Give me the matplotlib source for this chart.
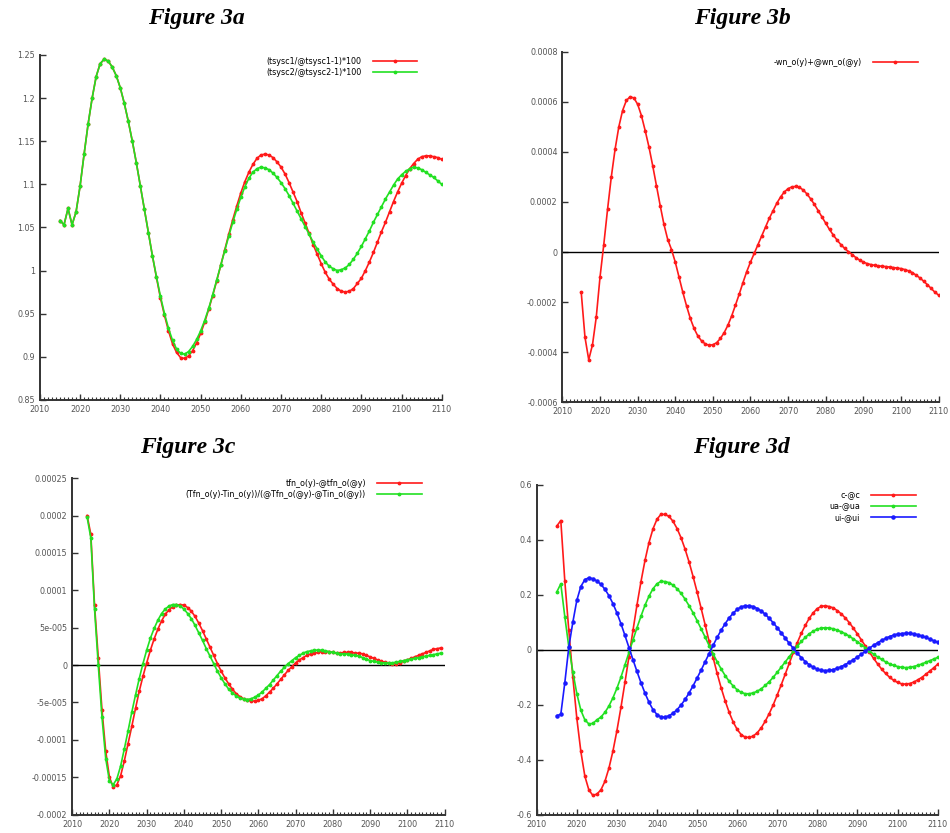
import matplotlib
matplotlib.use('Agg')
import matplotlib.pyplot as plt
import numpy as np
from matplotlib.ticker import MultipleLocator

# ---- data (yearly values) ----
years_a = np.arange(2015, 2111)
tsysc1 = [1.058, 1.053, 1.072, 1.053, 1.068,
          1.098, 1.135, 1.170, 1.200, 1.225, 1.240, 1.245, 1.243, 1.236, 1.226,
          1.212, 1.194, 1.173, 1.150, 1.125, 1.098, 1.071, 1.044, 1.017, 0.992,
          0.968, 0.948, 0.930, 0.915, 0.905, 0.899, 0.898, 0.901, 0.907, 0.916,
          0.927, 0.940, 0.955, 0.971, 0.988, 1.006, 1.024, 1.042, 1.059, 1.075,
          1.090, 1.103, 1.114, 1.123, 1.130, 1.134, 1.135, 1.134, 1.131, 1.126,
          1.120, 1.112, 1.102, 1.091, 1.080, 1.067, 1.055, 1.043, 1.030, 1.019,
          1.008, 0.998, 0.990, 0.984, 0.979, 0.976, 0.975, 0.976, 0.979, 0.985,
          0.991, 1.000, 1.010, 1.021, 1.033, 1.045, 1.056, 1.068, 1.080, 1.091,
          1.101, 1.110, 1.118, 1.124, 1.129, 1.132, 1.133, 1.133, 1.132, 1.131,
          1.129]
tsysc2 = [1.058, 1.053, 1.072, 1.053, 1.068,
          1.098, 1.135, 1.170, 1.200, 1.225, 1.240, 1.245, 1.243, 1.236, 1.226,
          1.212, 1.194, 1.173, 1.150, 1.125, 1.098, 1.071, 1.044, 1.017, 0.993,
          0.970, 0.950, 0.933, 0.919, 0.909, 0.904, 0.903, 0.906, 0.912, 0.920,
          0.930, 0.942, 0.956, 0.972, 0.989, 1.006, 1.023, 1.040, 1.056, 1.071,
          1.085, 1.097, 1.107, 1.114, 1.118, 1.120, 1.119, 1.117, 1.113, 1.108,
          1.102, 1.095, 1.087, 1.078, 1.069, 1.060, 1.051, 1.042, 1.033, 1.025,
          1.017, 1.010, 1.005, 1.002, 1.000, 1.001, 1.003, 1.007, 1.013, 1.020,
          1.028, 1.037, 1.046, 1.056, 1.065, 1.074, 1.083, 1.091, 1.099, 1.106,
          1.111, 1.115, 1.118, 1.120, 1.119, 1.117, 1.114, 1.111, 1.108, 1.104,
          1.100]

years_b = np.arange(2015, 2111)
wn = [-0.000160, -0.000340, -0.000430, -0.000370, -0.000260,
      -0.000100, 0.000030, 0.000170, 0.000300, 0.000410, 0.000500, 0.000565, 0.000605, 0.000620, 0.000615,
      0.000590, 0.000545, 0.000485, 0.000420, 0.000345, 0.000265, 0.000185, 0.000110, 0.000050, 0.000010,
      -0.000040, -0.000100, -0.000160, -0.000215, -0.000265, -0.000305, -0.000335, -0.000355, -0.000367, -0.000372,
      -0.000370, -0.000362, -0.000345, -0.000322, -0.000292, -0.000255, -0.000212, -0.000168, -0.000122, -0.000078,
      -0.000040, -0.000005, 0.000030, 0.000065, 0.000100, 0.000135, 0.000165, 0.000195, 0.000220, 0.000240,
      0.000253, 0.000260, 0.000262, 0.000258, 0.000248, 0.000232, 0.000212, 0.000190, 0.000165, 0.000140,
      0.000115, 0.000090, 0.000068, 0.000048, 0.000030, 0.000015, 0.000002, -0.000010, -0.000022, -0.000032,
      -0.000040, -0.000046, -0.000050, -0.000053, -0.000055, -0.000057, -0.000058, -0.000060, -0.000062, -0.000064,
      -0.000066, -0.000070, -0.000075, -0.000082, -0.000092, -0.000103, -0.000116, -0.000130, -0.000145, -0.000160,
      -0.000172]

years_c = np.arange(2014, 2110)
tfn = [0.000200, 0.000175, 0.000080, 0.000010, -0.000060, -0.000115,
       -0.000150, -0.000163, -0.000160, -0.000148, -0.000128, -0.000105, -0.000082, -0.000058, -0.000035, -0.000015,
       0.000003, 0.000020, 0.000035, 0.000048, 0.000059, 0.000068, 0.000074, 0.000078, 0.000080, 0.000081,
       0.000080, 0.000077, 0.000072, 0.000065, 0.000056, 0.000046, 0.000035, 0.000024, 0.000013, 0.000002,
       -0.000008, -0.000017, -0.000025, -0.000032, -0.000038, -0.000042, -0.000045, -0.000047, -0.000048, -0.000048,
       -0.000047, -0.000045, -0.000041, -0.000036, -0.000031, -0.000025, -0.000019, -0.000013, -0.000007, -0.000002,
       0.000003, 0.000007, 0.000010, 0.000013, 0.000015, 0.000016, 0.000017, 0.000018, 0.000018, 0.000018,
       0.000017, 0.000016, 0.000016, 0.000017, 0.000017, 0.000017, 0.000016, 0.000016, 0.000015, 0.000013,
       0.000011, 0.000009, 0.000007, 0.000005, 0.000004, 0.000003, 0.000002, 0.000002, 0.000003, 0.000005,
       0.000007, 0.000009, 0.000011, 0.000013, 0.000015, 0.000017, 0.000019, 0.000021, 0.000022, 0.000023]
tfn_tin = [0.000198, 0.000170, 0.000075, 0.000000, -0.000070, -0.000125,
           -0.000155, -0.000160, -0.000152, -0.000135, -0.000112, -0.000088, -0.000063, -0.000040, -0.000018, 0.000002,
           0.000020, 0.000036, 0.000049, 0.000060, 0.000069, 0.000075, 0.000079, 0.000081, 0.000081, 0.000079,
           0.000075, 0.000069, 0.000062, 0.000053, 0.000043, 0.000033, 0.000022, 0.000012, 0.000002, -0.000008,
           -0.000017, -0.000025, -0.000032, -0.000037, -0.000041, -0.000044, -0.000045, -0.000046, -0.000045, -0.000043,
           -0.000040, -0.000036, -0.000031, -0.000026, -0.000020, -0.000014, -0.000008, -0.000003, 0.000002, 0.000006,
           0.000010, 0.000013, 0.000016, 0.000018, 0.000019, 0.000020, 0.000020, 0.000020, 0.000019, 0.000018,
           0.000017, 0.000016, 0.000015, 0.000015, 0.000015, 0.000014, 0.000013, 0.000012, 0.000010, 0.000008,
           0.000006, 0.000005, 0.000004, 0.000003, 0.000003, 0.000003, 0.000003, 0.000004, 0.000005, 0.000006,
           0.000007, 0.000008, 0.000009, 0.000010, 0.000011, 0.000012, 0.000013, 0.000014, 0.000015, 0.000016]

years_d = np.arange(2015, 2111)
c_dev = [0.45, 0.47, 0.25, 0.07, -0.10,
         -0.25, -0.37, -0.46, -0.51, -0.53, -0.525, -0.510, -0.479, -0.431, -0.369,
         -0.294, -0.210, -0.119, -0.025, 0.070, 0.163, 0.248, 0.325, 0.390, 0.440,
         0.475, 0.493, 0.492, 0.485, 0.467, 0.441, 0.407, 0.366, 0.319, 0.266,
         0.210, 0.151, 0.091, 0.030, -0.029, -0.086, -0.139, -0.186, -0.228, -0.263,
         -0.290, -0.309, -0.318, -0.319, -0.314, -0.302, -0.284, -0.260, -0.232, -0.200,
         -0.164, -0.127, -0.088, -0.049, -0.010, 0.026, 0.060, 0.089, 0.115, 0.135,
         0.150, 0.158, 0.160, 0.157, 0.152, 0.142, 0.130, 0.115, 0.098, 0.078,
         0.057, 0.035, 0.013, -0.009, -0.031, -0.051, -0.070, -0.086, -0.100, -0.111,
         -0.119, -0.124, -0.125, -0.123, -0.118, -0.110, -0.101, -0.090, -0.078, -0.066,
         -0.053]
ua_dev = [0.21, 0.24, 0.12, 0.01, -0.08,
          -0.16, -0.22, -0.255, -0.27, -0.268, -0.255, -0.245, -0.228, -0.205, -0.175,
          -0.140, -0.100, -0.055, -0.010, 0.035, 0.080, 0.122, 0.162, 0.195, 0.222,
          0.240, 0.249, 0.248, 0.244, 0.235, 0.222, 0.205, 0.184, 0.160, 0.134,
          0.106, 0.076, 0.046, 0.015, -0.015, -0.044, -0.070, -0.094, -0.115, -0.132,
          -0.146, -0.155, -0.160, -0.160, -0.157, -0.151, -0.142, -0.130, -0.116, -0.100,
          -0.082, -0.063, -0.044, -0.025, -0.006, 0.013, 0.030, 0.045, 0.058, 0.068,
          0.075, 0.079, 0.080, 0.079, 0.076, 0.071, 0.065, 0.058, 0.049, 0.039,
          0.029, 0.018, 0.007, -0.005, -0.016, -0.026, -0.035, -0.044, -0.051, -0.057,
          -0.061, -0.064, -0.065, -0.064, -0.061, -0.057, -0.052, -0.046, -0.040, -0.034,
          -0.028]
ui_dev = [-0.24, -0.235, -0.12, 0.01, 0.10,
          0.18, 0.23, 0.255, 0.262, 0.258, 0.250, 0.238, 0.220, 0.197, 0.168,
          0.134, 0.095, 0.052, 0.008, -0.036, -0.079, -0.120, -0.158, -0.191, -0.218,
          -0.236, -0.245, -0.245, -0.240, -0.231, -0.218, -0.201, -0.181, -0.157, -0.131,
          -0.103, -0.074, -0.044, -0.014, 0.016, 0.045, 0.071, 0.095, 0.116, 0.133,
          0.147, 0.156, 0.160, 0.160, 0.157, 0.150, 0.141, 0.129, 0.114, 0.098,
          0.080, 0.061, 0.042, 0.023, 0.005, -0.013, -0.029, -0.043, -0.055, -0.064,
          -0.071, -0.075, -0.076, -0.075, -0.072, -0.067, -0.061, -0.054, -0.045, -0.036,
          -0.026, -0.016, -0.005, 0.006, 0.016, 0.025, 0.034, 0.041, 0.048, 0.053,
          0.057, 0.059, 0.060, 0.060, 0.058, 0.055, 0.050, 0.045, 0.039, 0.033,
          0.027]

yticks_a = [0.85, 0.9, 0.95, 1.0, 1.05, 1.1, 1.15, 1.2, 1.25]
ylabels_a = ['0.85', '0.9', '0.95', '1', '1.05', '1.1', '1.15', '1.2', '1.25']
yticks_b = [-0.0006, -0.0004, -0.0002, 0, 0.0002, 0.0004, 0.0006, 0.0008]
ylabels_b = ['-0.0006', '-0.0004', '-0.0002', '0', '0.0002', '0.0004', '0.0006', '0.0008']
yticks_c = [-0.0002, -0.00015, -0.0001, -0.00005, 0, 0.00005, 0.0001, 0.00015, 0.0002, 0.00025]
ylabels_c = ['-0.0002', '-0.00015', '-0.0001', '-5e-005', '0', '5e-005', '0.0001', '0.00015', '0.0002', '0.00025']
yticks_d = [-0.6, -0.4, -0.2, 0, 0.2, 0.4, 0.6]
ylabels_d = ['-0.6', '-0.4', '-0.2', '0', '0.2', '0.4', '0.6']

RED = '#ff1a1a'
GREEN = '#22e022'
BLUE = '#1a1aff'
tick_fs = 5.8
leg_fs = 5.8


def style_axis(ax, yticks, ylabels):
    ax.set_xlim(2010, 2110)
    ax.set_ylim(yticks[0], yticks[-1])
    ax.xaxis.set_major_locator(MultipleLocator(10))
    ax.xaxis.set_minor_locator(MultipleLocator(1))
    ax.set_yticks(yticks)
    ax.set_yticklabels(ylabels)
    for s in ['top', 'right']:
        ax.spines[s].set_visible(False)
    for s in ['left', 'bottom']:
        ax.spines[s].set_linewidth(1.4)
        ax.spines[s].set_color('#333333')
    ax.tick_params(which='both', direction='in', labelsize=tick_fs, labelcolor='#555555', color='#333333')
    ax.tick_params(which='major', length=4, width=1)
    ax.tick_params(which='minor', length=2, width=0.8)
    ax.tick_params(axis='y', which='minor', length=0)


def add_legend(ax, anchor):
    leg = ax.legend(loc='upper right', bbox_to_anchor=anchor, frameon=False, markerfirst=False,
                    fontsize=leg_fs, handlelength=5.5, handletextpad=1.4, labelspacing=0.25,
                    borderpad=0, borderaxespad=0)
    # right-align the entries so the labels end next to their lines
    try:
        for col in leg._legend_handle_box.get_children():
            col.align = 'right'
    except AttributeError:
        pass
    return leg


fig = plt.figure(figsize=(9.5, 8.33), dpi=100)
ax_a = fig.add_axes([0.042, 0.520, 0.423, 0.414])
ax_b = fig.add_axes([0.592, 0.517, 0.396, 0.421])
ax_c = fig.add_axes([0.076, 0.022, 0.392, 0.404])
ax_d = fig.add_axes([0.565, 0.022, 0.422, 0.396])

kw = dict(linewidth=1.2, marker='.', markersize=3.5)

# Figure 3a
ax_a.plot(years_a, tsysc1, color=RED, label='(tsysc1/@tsysc1-1)*100', **kw)
ax_a.plot(years_a, tsysc2, color=GREEN, label='(tsysc2/@tsysc2-1)*100', **kw)
style_axis(ax_a, yticks_a, ylabels_a)
add_legend(ax_a, (0.938, 0.995))

# Figure 3b
ax_b.axhline(0, color='black', linewidth=1.0)
ax_b.plot(years_b, wn, color=RED, label='-wn_o(y)+@wn_o(@y)', **kw)
style_axis(ax_b, yticks_b, ylabels_b)
add_legend(ax_b, (0.944, 0.982))

# Figure 3c
ax_c.axhline(0, color='black', linewidth=1.0)
ax_c.plot(years_c, tfn, color=RED, label='tfn_o(y)-@tfn_o(@y)', **kw)
ax_c.plot(years_c, tfn_tin, color=GREEN, label='(Tfn_o(y)-Tin_o(y))/(@Tfn_o(@y)-@Tin_o(@y))', **kw)
style_axis(ax_c, yticks_c, ylabels_c)
add_legend(ax_c, (0.938, 0.998))

# Figure 3d
ax_d.axhline(0, color='black', linewidth=1.0)
ax_d.plot(years_d, c_dev, color=RED, label='c-@c', **kw)
ax_d.plot(years_d, ua_dev, color=GREEN, label='ua-@ua', **kw)
ax_d.plot(years_d, ui_dev, color=BLUE, label='ui-@ui', linewidth=1.2, marker='.', markersize=4.5)
style_axis(ax_d, yticks_d, ylabels_d)
add_legend(ax_d, (0.945, 0.982))

title_kw = dict(fontsize=17, fontweight='bold', fontstyle='italic', family='Liberation Serif', ha='center', va='center')
fig.text(0.207, 0.978, 'Figure 3a', **title_kw)
fig.text(0.781, 0.978, 'Figure 3b', **title_kw)
fig.text(0.198, 0.463, 'Figure 3c', **title_kw)
fig.text(0.780, 0.463, 'Figure 3d', **title_kw)

fig.savefig('out.png', dpi=100)
